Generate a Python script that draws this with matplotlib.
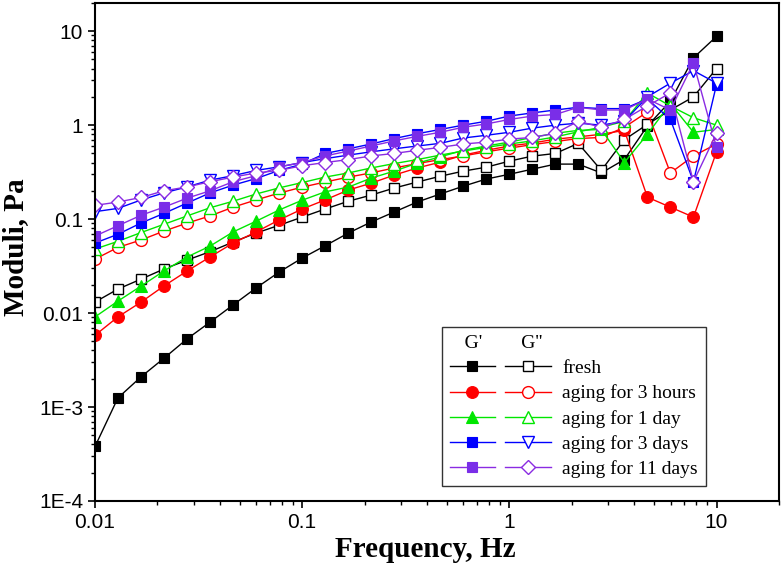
import matplotlib
matplotlib.use("Agg")
import matplotlib.pyplot as plt
from matplotlib.legend_handler import HandlerTuple
from matplotlib.ticker import FixedLocator, FixedFormatter, LogLocator, NullFormatter

# %% data (frequency sweep, 28 points)
freq = [0.01, 0.0129, 0.0167, 0.0215, 0.0278, 0.0359, 0.0464, 0.0599, 0.0774, 0.1,
        0.129, 0.167, 0.215, 0.278, 0.359, 0.464, 0.599, 0.774, 1.0,
        1.29, 1.67, 2.15, 2.78, 3.59, 4.64, 5.99, 7.74, 10.0]

fresh_g1 = [0.00038, 0.00125, 0.0021, 0.0033, 0.0053, 0.0080, 0.0122, 0.0185, 0.0273, 0.0385,
            0.052, 0.071, 0.093, 0.119, 0.152, 0.185, 0.224, 0.267, 0.30,
            0.34, 0.385, 0.385, 0.31, 0.43, 0.98, 1.8, 5.2, 8.8]
fresh_g2 = [0.0131, 0.018, 0.023, 0.0294, 0.0366, 0.045, 0.057, 0.071, 0.086, 0.105,
            0.128, 0.155, 0.18, 0.214, 0.248, 0.286, 0.324, 0.357, 0.414,
            0.468, 0.50, 0.64, 0.33, 0.70, 1.02, 1.45, 2.0, 4.0]

h3_g1 = [0.0058, 0.0091, 0.0131, 0.0194, 0.028, 0.0395, 0.0556, 0.073, 0.098, 0.128,
         0.16, 0.204, 0.241, 0.294, 0.35, 0.404, 0.48, 0.54, 0.60,
         0.645, 0.71, 0.75, 0.80, 0.88, 0.171, 0.134, 0.105, 0.52]
h3_g2 = [0.0375, 0.050, 0.06, 0.0745, 0.0906, 0.108, 0.134, 0.16, 0.189, 0.219,
         0.248, 0.28, 0.31, 0.35, 0.39, 0.43, 0.47, 0.52, 0.57,
         0.62, 0.67, 0.72, 0.74, 0.95, 1.38, 0.31, 0.47, 0.63]

d1_g1 = [0.0091, 0.0134, 0.0194, 0.028, 0.0395, 0.0516, 0.073, 0.095, 0.125, 0.159,
         0.195, 0.219, 0.273, 0.324, 0.394, 0.46, 0.54, 0.60, 0.66,
         0.74, 0.82, 0.88, 0.9, 0.40, 0.80, 1.7, 0.84, 0.9]
d1_g2 = [0.048, 0.058, 0.072, 0.088, 0.108, 0.132, 0.155, 0.185, 0.215, 0.245,
         0.28, 0.31, 0.35, 0.39, 0.43, 0.48, 0.53, 0.58, 0.63,
         0.68, 0.75, 0.85, 0.95, 1.1, 2.2, 1.6, 1.2, 1.0]

d3_g1 = [0.0556, 0.069, 0.091, 0.115, 0.148, 0.19, 0.23, 0.27, 0.33, 0.385,
         0.5, 0.56, 0.63, 0.72, 0.81, 0.9, 1.0, 1.1, 1.25,
         1.35, 1.45, 1.55, 1.5, 1.5, 1.9, 1.15, 0.25, 2.7]
d3_g2 = [0.12, 0.13, 0.16, 0.19, 0.22, 0.26, 0.29, 0.33, 0.36, 0.40,
         0.44, 0.48, 0.52, 0.56, 0.6, 0.64, 0.73, 0.78, 0.84,
         0.93, 1.0, 1.05, 1.0, 1.1, 2.0, 2.8, 3.8, 2.8]

d11_g1 = [0.066, 0.085, 0.11, 0.134, 0.167, 0.2, 0.25, 0.29, 0.36, 0.4,
          0.47, 0.53, 0.6, 0.68, 0.76, 0.84, 0.95, 1.03, 1.15,
          1.25, 1.3, 1.55, 1.45, 1.45, 1.9, 1.45, 4.6, 0.58]
d11_g2 = [0.14, 0.152, 0.17, 0.2, 0.22, 0.25, 0.28, 0.31, 0.33, 0.37,
          0.4, 0.43, 0.47, 0.5, 0.54, 0.58, 0.63, 0.66, 0.71,
          0.74, 0.82, 1.1, 0.95, 1.15, 1.6, 2.2, 0.25, 0.82]

labels = ["fresh", "aging for 3 hours", "aging for 1 day", "aging for 3 days", "aging for 11 days"]
ytick_vals = [1e-4, 1e-3, 0.01, 0.1, 1, 10]
ytick_text = ["1E-4", "1E-3", "0.01", "0.1", "1", "10"]
xtick_vals = [0.01, 0.1, 1, 10]
xtick_text = ["0.01", "0.1", "1", "10"]

# %% styles: (line colour, G' marker, G'' marker, G' size, G'' size, G' face)
styles = [
    ("black", "s", "s", 7.5, 7.5, "black"),
    ("#ff0000", "o", "o", 8.5, 8.5, "#ff0000"),
    ("#00e600", "^", "^", 9.0, 9.0, "#00e600"),
    ("#0000ff", "s", "v", 7.5, 9.0, "#0000ff"),
    ("#8a2be2", "s", "D", 7.5, 7.5, "#7a2ee8"),
]
series = [(fresh_g1, fresh_g2), (h3_g1, h3_g2), (d1_g1, d1_g2), (d3_g1, d3_g2), (d11_g1, d11_g2)]

fig = plt.figure(figsize=(7.82, 5.83), dpi=100)
ax = fig.add_axes([0.1215, 0.1407, 0.8745, 0.8543])

handles = []
for (g1, g2), (col, m1, m2, s1, s2, fc) in zip(series, styles):
    l1, = ax.plot(freq, g1, color=col, lw=1.0, marker=m1, ms=s1, mfc=fc, mec=fc, mew=0.8)
    l2, = ax.plot(freq, g2, color=col, lw=1.0, marker=m2, ms=s2, mfc="white", mec=col, mew=1.0)
    handles.append((l1, l2))

ax.set_xscale("log")
ax.set_yscale("log")
ax.set_xlim(0.01, 20)
ax.set_ylim(1e-4, 20)

ax.xaxis.set_major_locator(FixedLocator(xtick_vals))
ax.xaxis.set_major_formatter(FixedFormatter(xtick_text))
ax.yaxis.set_major_locator(FixedLocator(ytick_vals))
ax.yaxis.set_major_formatter(FixedFormatter(ytick_text))
ax.xaxis.set_minor_locator(LogLocator(base=10, subs=range(2, 10), numticks=20))
ax.yaxis.set_minor_locator(LogLocator(base=10, subs=range(2, 10), numticks=20))
ax.xaxis.set_minor_formatter(NullFormatter())
ax.yaxis.set_minor_formatter(NullFormatter())

for sp in ax.spines.values():
    sp.set_linewidth(1.5)
ax.tick_params(which="major", direction="out", length=5, width=1.2,
               labelsize=15, top=False, right=False)
ax.tick_params(which="minor", direction="out", length=3, width=1.0, top=False, right=False)
for lab in ax.get_xticklabels() + ax.get_yticklabels():
    lab.set_family("Liberation Sans")

ax.set_xlabel("Frequency, Hz", family="Liberation Serif", fontweight="bold", fontsize=21,
              labelpad=3, x=0.483)
ax.set_ylabel("Moduli, Pa", family="Liberation Serif", fontweight="bold", fontsize=21,
              labelpad=7, y=0.51)

leg = ax.legend(handles, labels, handler_map={tuple: HandlerTuple(ndivide=None, pad=0.55)},
                loc="lower left", bbox_to_anchor=(0.507, 0.03), borderaxespad=0,
                prop={"family": "Liberation Serif", "size": 14},
                title="   G'        G''", title_fontproperties={"family": "Liberation Serif", "size": 14},
                alignment="left", handlelength=5.2, handletextpad=0.6, labelspacing=0.38,
                borderpad=0.4, fancybox=False, edgecolor="#333333", framealpha=1)
leg.get_frame().set_linewidth(1.0)

fig.savefig("out.png", dpi=100)
